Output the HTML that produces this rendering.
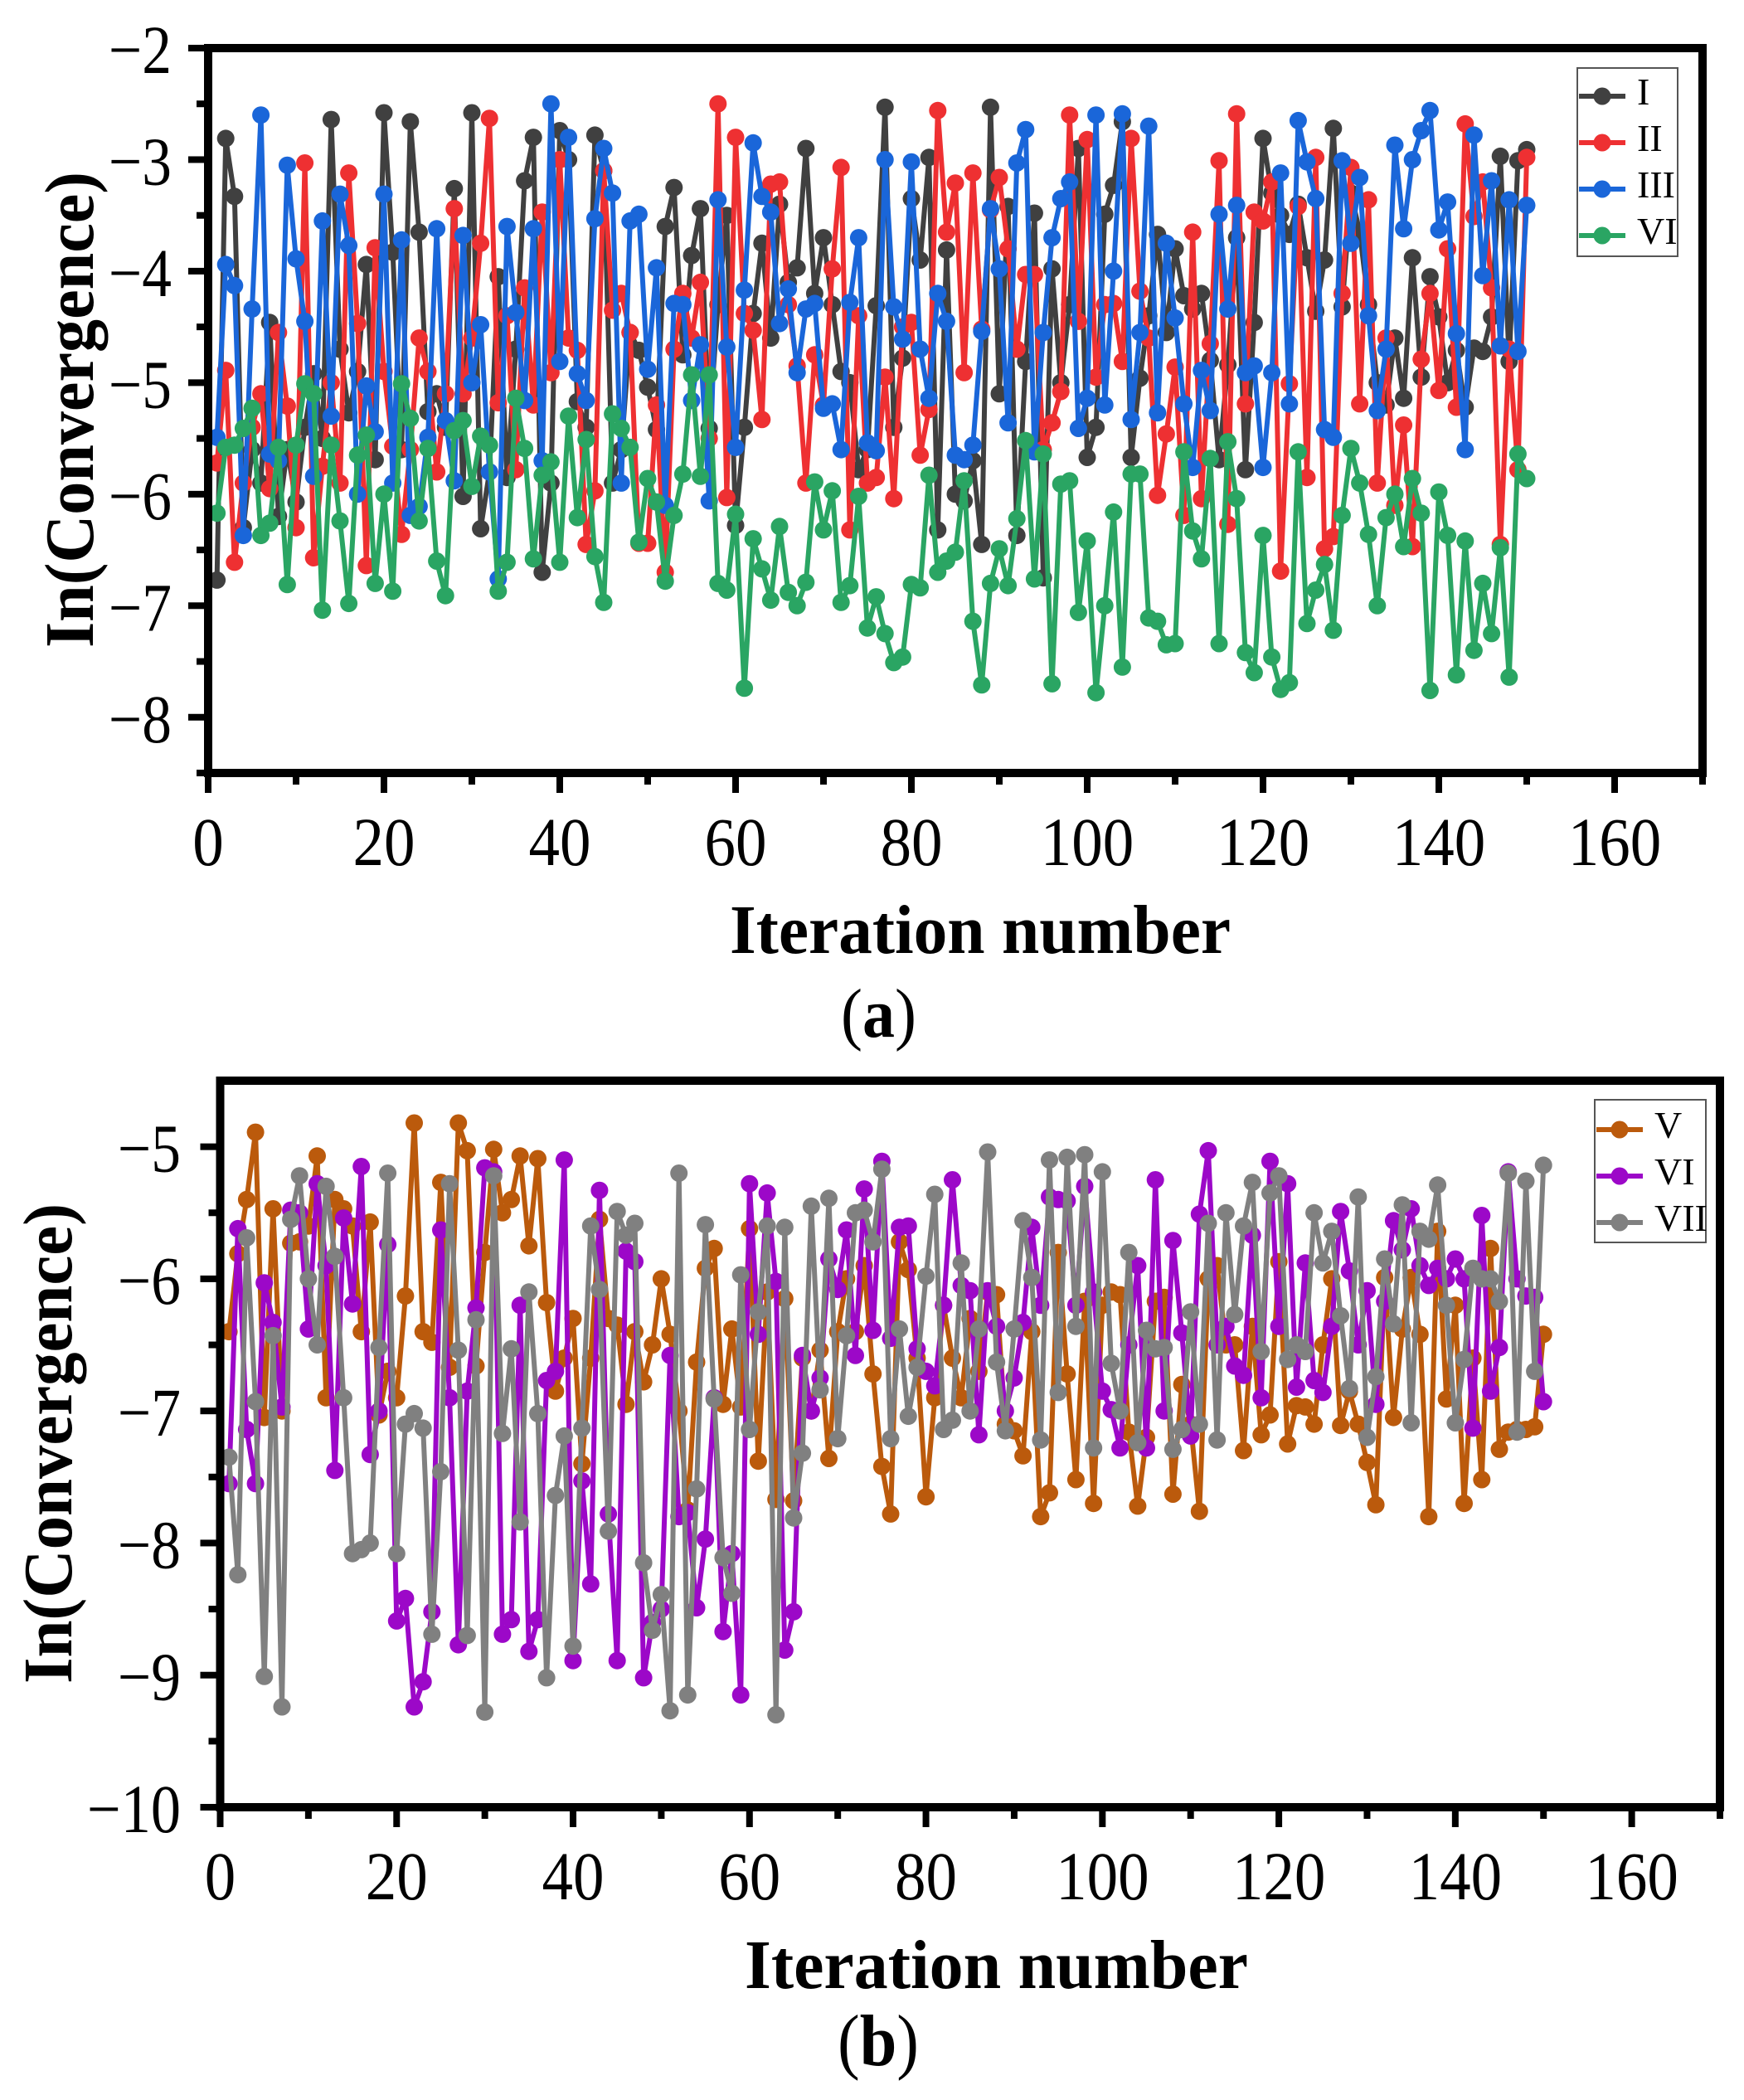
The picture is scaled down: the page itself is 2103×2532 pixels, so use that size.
<!DOCTYPE html>
<html lang="en">
<head>
<meta charset="utf-8">
<title>Convergence versus iteration number</title>
<style>
html,body{margin:0;padding:0;background:#fff;}
svg{display:block;font-family:"Liberation Serif",serif;}
</style>
</head>
<body>
<svg id="figure" width="2103" height="2532" viewBox="0 0 2103 2532" xmlns="http://www.w3.org/2000/svg">
  <rect x="0" y="0" width="2103" height="2532" fill="#ffffff"/>
  <g id="panelA"></g>
  <g id="panelB"></g>

  <text x="880" y="1149" font-size="84" font-weight="bold" textLength="604" lengthAdjust="spacingAndGlyphs" fill="#000">Iteration number</text>
  <text transform="translate(112,781) rotate(-90)" font-size="84" font-weight="bold" textLength="574" lengthAdjust="spacingAndGlyphs" fill="#000">In(Convergence)</text>
  <text x="1014" y="1250" font-size="84" textLength="91" lengthAdjust="spacingAndGlyphs" fill="#000">(<tspan font-weight="bold">a</tspan>)</text>

  <text x="898" y="2397" font-size="84" font-weight="bold" textLength="607" lengthAdjust="spacingAndGlyphs" fill="#000">Iteration number</text>
  <text transform="translate(86,2030) rotate(-90)" font-size="84" font-weight="bold" textLength="579" lengthAdjust="spacingAndGlyphs" fill="#000">In(Convergence)</text>
  <text x="1010" y="2490" font-size="88" textLength="98" lengthAdjust="spacingAndGlyphs" fill="#000">(<tspan font-weight="bold">b</tspan>)</text>
</svg>

<script>
const seriesI = [-6.77,-2.81,-3.33,-6.3,-5.6,-5.9,-4.46,-6.2,-5.6,-6.07,-5.4,-4.92,-5.5,-2.64,-4.7,-5.27,-4.9,-3.94,-5.69,-2.58,-3.83,-5.6,-2.66,-3.65,-5.26,-5.1,-5.4,-3.26,-6.02,-2.58,-6.31,-5.8,-4.05,-5.85,-4.7,-3.19,-2.8,-6.7,-5.9,-2.74,-3.0,-5.17,-5.4,-2.78,-3.1,-5.9,-5.6,-4.55,-4.71,-5.04,-5.42,-3.6,-3.25,-4.75,-3.86,-3.44,-5.41,-4.3,-3.5,-6.28,-5.4,-4.38,-3.75,-4.6,-3.4,-4.1,-3.97,-2.9,-4.2,-3.7,-4.3,-4.9,-5.0,-5.78,-5.6,-4.31,-2.53,-5.4,-4.78,-3.35,-3.9,-2.98,-6.32,-3.81,-6.0,-6.06,-5.7,-6.45,-2.53,-5.1,-3.42,-6.37,-4.81,-3.48,-6.75,-3.98,-5.0,-4.3,-2.9,-5.67,-5.4,-3.49,-3.23,-2.66,-5.67,-4.96,-4.4,-3.67,-4.55,-3.8,-4.22,-4.34,-4.2,-4.8,-5.69,-4.84,-3.7,-5.78,-4.46,-2.81,-3.3,-3.5,-3.67,-3.4,-3.88,-4.36,-3.9,-2.72,-4.32,-3.3,-3.65,-4.3,-5.0,-5.2,-4.6,-5.14,-3.88,-4.95,-4.05,-4.41,-5.0,-4.71,-5.22,-4.69,-4.72,-4.41,-2.97,-4.81,-3.01,-2.91];
const seriesII = [-5.72,-4.89,-6.61,-5.9,-5.4,-5.1,-5.95,-4.55,-5.21,-6.3,-3.03,-6.57,-5.75,-5.0,-5.9,-3.12,-4.47,-6.64,-3.79,-4.9,-5.57,-6.36,-5.6,-4.6,-4.9,-5.8,-5.1,-3.44,-5.1,-4.6,-3.75,-2.63,-5.18,-4.4,-5.78,-4.15,-5.2,-3.47,-4.91,-3.0,-4.6,-4.71,-6.45,-5.97,-3.1,-4.35,-4.2,-4.55,-6.44,-6.44,-5.2,-6.7,-4.7,-4.2,-4.6,-4.1,-5.5,-2.5,-6.03,-2.8,-4.38,-4.53,-5.33,-3.22,-3.2,-4.3,-4.85,-5.9,-4.75,-5.2,-3.98,-3.07,-6.32,-4.4,-5.9,-5.85,-4.95,-6.04,-4.5,-4.46,-5.65,-5.24,-2.56,-3.65,-3.21,-4.91,-3.12,-4.52,-3.45,-3.16,-3.8,-4.7,-4.03,-4.03,-5.6,-5.36,-5.08,-2.6,-4.45,-2.82,-4.95,-4.3,-4.29,-4.81,-2.81,-4.18,-4.6,-6.01,-5.46,-4.86,-6.19,-3.65,-6.04,-4.65,-3.01,-6.27,-2.59,-5.19,-3.47,-3.55,-3.2,-6.69,-5.01,-3.42,-5.85,-2.98,-6.49,-6.38,-4.2,-3.07,-5.19,-3.36,-5.9,-4.6,-6.1,-5.38,-6.47,-4.79,-4.2,-5.07,-3.8,-5.22,-2.68,-3.51,-3.2,-4.15,-6.45,-4.7,-5.78,-2.98];
const seriesIII = [-5.49,-3.94,-4.13,-6.37,-4.34,-2.6,-5.64,-5.7,-3.05,-3.89,-4.45,-5.84,-3.55,-5.3,-3.31,-3.77,-6.0,-5.03,-5.44,-3.31,-5.9,-3.72,-6.19,-6.11,-5.49,-3.62,-5.34,-5.88,-3.68,-5.0,-4.48,-5.8,-6.76,-3.6,-4.37,-5.16,-3.62,-5.7,-2.5,-4.81,-2.8,-4.92,-5.16,-3.53,-2.9,-3.3,-5.9,-3.55,-3.49,-4.88,-3.97,-6.1,-4.29,-4.3,-5.16,-4.66,-6.06,-3.36,-4.68,-5.58,-4.17,-2.85,-3.33,-3.47,-4.47,-4.16,-4.91,-4.34,-4.29,-5.23,-5.19,-5.6,-4.28,-3.7,-5.54,-5.61,-3.0,-4.32,-4.61,-3.02,-4.7,-5.14,-4.2,-4.45,-5.65,-5.69,-5.56,-4.54,-3.44,-3.98,-5.36,-3.03,-2.73,-5.62,-4.55,-3.7,-3.35,-3.2,-5.41,-5.14,-2.6,-5.2,-4.0,-2.59,-5.33,-4.55,-2.7,-5.27,-3.75,-4.42,-5.19,-5.76,-4.89,-5.25,-3.49,-4.34,-3.41,-4.91,-4.85,-5.76,-4.91,-3.12,-5.19,-2.65,-3.02,-3.35,-5.42,-5.49,-3.01,-3.75,-3.16,-4.4,-5.25,-4.7,-2.87,-3.62,-3.0,-2.74,-2.56,-3.63,-3.38,-4.56,-5.6,-2.78,-4.04,-3.19,-4.67,-3.36,-4.72,-3.41];
const seriesIV = [-6.17,-5.58,-5.56,-5.41,-5.23,-6.37,-6.26,-5.58,-6.81,-5.56,-5.01,-5.1,-7.04,-5.56,-6.24,-6.98,-5.65,-5.47,-6.8,-6.0,-6.87,-5.01,-5.32,-6.24,-5.59,-6.6,-6.91,-5.43,-5.34,-5.93,-5.48,-5.56,-6.87,-6.61,-5.14,-5.59,-6.58,-5.83,-5.71,-6.61,-5.3,-6.21,-5.51,-6.56,-6.97,-5.28,-5.41,-5.58,-6.43,-5.86,-6.07,-6.78,-6.19,-5.82,-4.93,-5.84,-4.93,-6.8,-6.86,-6.18,-7.74,-6.4,-6.67,-6.95,-6.29,-6.88,-7.0,-6.79,-5.89,-6.32,-5.97,-6.97,-6.82,-6.02,-7.2,-6.92,-7.25,-7.51,-7.46,-6.81,-6.84,-5.83,-6.7,-6.6,-6.52,-5.88,-7.14,-7.71,-6.8,-6.49,-6.82,-6.22,-5.52,-6.76,-5.64,-7.7,-5.91,-5.88,-7.06,-6.42,-7.78,-7.0,-6.16,-7.55,-5.82,-5.82,-7.11,-7.14,-7.35,-7.34,-5.62,-6.33,-6.58,-5.68,-7.34,-5.53,-6.04,-7.42,-7.6,-6.37,-7.46,-7.75,-7.69,-5.62,-7.16,-6.86,-6.63,-7.22,-6.19,-5.59,-5.9,-6.36,-7.0,-6.21,-6.0,-6.47,-5.86,-6.17,-7.76,-5.98,-6.37,-7.62,-6.42,-7.4,-6.8,-7.25,-6.48,-7.64,-5.64,-5.86];
const seriesV = [-6.4,-5.81,-5.4,-4.89,-7.05,-5.47,-7.0,-5.73,-5.72,-5.6,-5.07,-6.9,-5.4,-5.47,-5.6,-6.4,-5.57,-7.03,-6.7,-6.9,-6.13,-4.82,-6.4,-6.48,-5.27,-6.67,-4.82,-5.03,-6.66,-5.8,-5.02,-5.5,-5.4,-5.07,-5.75,-5.09,-6.18,-6.85,-6.6,-6.3,-7.4,-6.6,-5.55,-6.3,-6.35,-6.95,-6.4,-6.78,-6.5,-6.0,-6.42,-7.0,-7.75,-6.63,-5.92,-5.77,-6.95,-6.38,-6.97,-5.62,-7.38,-6.1,-7.67,-6.15,-7.68,-6.6,-7.0,-6.54,-7.36,-6.4,-6.0,-6.4,-5.9,-6.72,-7.42,-7.78,-5.72,-5.93,-6.6,-7.65,-6.9,-6.2,-6.6,-6.9,-6.3,-6.7,-6.1,-6.12,-7.1,-7.15,-7.34,-6.4,-7.8,-7.62,-5.8,-6.72,-7.52,-6.17,-7.7,-6.2,-6.1,-6.12,-7.16,-7.72,-7.2,-6.17,-6.14,-7.63,-6.8,-7.1,-7.76,-6.0,-5.9,-6.5,-6.5,-7.3,-6.36,-7.18,-7.03,-5.87,-7.25,-6.96,-6.97,-7.1,-6.5,-6.0,-7.11,-6.85,-7.1,-7.39,-7.71,-5.99,-7.05,-6.38,-5.99,-6.42,-7.8,-5.64,-6.91,-6.2,-7.7,-6.6,-7.52,-5.77,-7.29,-7.16,-7.14,-7.14,-7.12,-6.42];
const seriesVI = [-7.55,-5.62,-7.14,-7.55,-6.03,-6.33,-6.97,-5.48,-5.5,-6.38,-5.28,-5.9,-7.45,-5.54,-6.19,-5.15,-7.33,-7.0,-5.74,-8.59,-8.42,-9.24,-9.05,-8.52,-5.63,-6.9,-8.77,-6.85,-6.22,-5.16,-5.19,-8.69,-8.58,-6.2,-8.82,-8.58,-6.77,-6.7,-5.1,-8.89,-7.53,-8.31,-5.33,-7.78,-8.89,-5.79,-5.87,-9.02,-8.6,-8.5,-6.58,-7.8,-7.77,-8.49,-7.97,-6.9,-8.67,-8.08,-9.15,-5.28,-6.42,-5.35,-6.02,-8.81,-8.52,-6.58,-7.0,-6.75,-5.85,-6.08,-5.63,-6.58,-5.32,-6.39,-5.11,-6.45,-5.61,-5.6,-6.53,-6.7,-6.81,-6.2,-5.25,-6.05,-6.09,-7.18,-6.09,-6.36,-7.0,-6.75,-6.33,-5.61,-6.2,-5.38,-5.4,-5.41,-6.2,-5.3,-6.1,-6.85,-6.99,-7.28,-6.5,-5.9,-7.28,-5.25,-7.0,-5.71,-6.41,-7.19,-5.51,-5.03,-6.5,-6.36,-6.66,-6.73,-5.67,-6.9,-5.11,-6.36,-5.28,-6.82,-5.88,-6.77,-6.86,-6.36,-5.49,-5.94,-6.5,-6.09,-6.95,-6.17,-5.56,-5.78,-5.47,-5.9,-6.05,-5.92,-6.0,-5.85,-6.0,-7.13,-5.52,-6.85,-6.52,-5.19,-6.0,-6.13,-6.14,-6.93];
const seriesVII = [-7.35,-8.24,-5.69,-6.93,-9.01,-6.43,-9.24,-5.55,-5.22,-6.0,-6.5,-5.3,-5.83,-6.9,-8.08,-8.05,-8.0,-6.52,-5.2,-8.08,-7.1,-7.02,-7.13,-8.69,-7.46,-5.28,-6.54,-8.7,-6.31,-9.28,-5.22,-7.17,-6.53,-7.84,-6.1,-7.02,-9.02,-7.64,-7.19,-8.78,-7.13,-5.6,-6.08,-7.91,-5.49,-5.67,-5.58,-8.15,-8.66,-8.39,-9.27,-5.2,-9.15,-7.59,-5.59,-6.91,-8.11,-8.38,-5.97,-7.14,-6.25,-5.6,-9.3,-5.61,-7.81,-7.32,-5.45,-6.84,-5.39,-7.21,-6.43,-5.5,-5.48,-5.72,-5.17,-7.21,-6.38,-7.04,-6.67,-5.98,-5.36,-7.14,-7.07,-5.88,-7.0,-6.38,-5.04,-6.63,-7.15,-6.38,-5.56,-5.99,-7.22,-5.1,-6.86,-5.08,-6.36,-5.06,-7.28,-5.19,-6.64,-7.0,-5.8,-7.24,-6.39,-6.53,-6.52,-7.29,-7.14,-6.25,-7.1,-5.58,-7.22,-5.5,-6.27,-5.6,-5.27,-6.55,-5.35,-5.22,-6.61,-6.5,-6.55,-5.5,-5.88,-5.64,-6.28,-6.83,-5.38,-7.2,-6.74,-5.85,-6.34,-5.44,-7.09,-5.64,-5.7,-5.29,-6.2,-7.09,-6.61,-5.92,-6.0,-6.0,-6.17,-5.2,-7.16,-5.26,-6.7,-5.14];

const xTickValues = [0,20,40,60,80,100,120,140,160];
const xMinorValues = [10,30,50,70,90,110,130,150,170];
const yTicksA = [-2,-3,-4,-5,-6,-7,-8];
const yMinorA = [-2.5,-3.5,-4.5,-5.5,-6.5,-7.5,-8.5];
const yTicksB = [-5,-6,-7,-8,-9,-10];
const yMinorB = [-5.5,-6.5,-7.5,-8.5,-9.5];
const legendLabelsA = ['I','II','III','VI'];
const legendLabelsB = ['V','VI','VII'];

const NS = 'http://www.w3.org/2000/svg';
function mk(tag, attrs, parent) {
  const el = document.createElementNS(NS, tag);
  for (const k in attrs) el.setAttribute(k, attrs[k]);
  parent.appendChild(el);
  return el;
}
function minusLabel(v) { return v < 0 ? '\u2212' + Math.abs(v) : String(v); }

function drawPanel(opts) {
  const g = opts.group;
  const sx = v => opts.left + (v - 0) * (opts.right - opts.left) / 170;
  const sy = v => opts.top + (opts.yMax - v) * (opts.bottom - opts.top) / (opts.yMax - opts.yMin);

  opts.series.forEach(s => {
    const sg = mk('g', {}, g);
    
    
    const pts = s.values.map((v, i) => sx(i + 1).toFixed(1) + ',' + sy(v).toFixed(1)).join(' ');
    const line = mk('polyline', {points: pts, fill: 'none', stroke: s.color, 'stroke-width': 6, 'stroke-linejoin': 'round'}, sg);
    
    
    s.values.forEach((v, i) => {
      const c = mk('circle', {cx: sx(i + 1).toFixed(1), cy: sy(v).toFixed(1), r: 10.5, fill: s.color}, sg);
      
      
    });
  });

  const frame = mk('rect', {x: opts.left, y: opts.top, width: opts.right - opts.left, height: opts.bottom - opts.top, fill: 'none', stroke: '#000', 'stroke-width': 10}, g);
  
  

  xTickValues.forEach(v => {
    const t = mk('rect', {x: sx(v) - 4, y: opts.bottom, width: 8, height: 24}, g);
    
    
    const s = String(v);
    const w = s.length * 37.5;
    const lab = mk('text', {x: sx(v) - w / 2, y: opts.xLabelY, 'font-size': 83, textLength: w, lengthAdjust: 'spacingAndGlyphs', fill: '#000'}, g);
    lab.textContent = s;
    
    
  });
  xMinorValues.forEach(v => {
    const t = mk('rect', {x: sx(v) - 4, y: opts.bottom, width: 8, height: 14}, g);
    
    
  });
  opts.yTicks.forEach(v => {
    const t = mk('rect', {x: opts.left - 24, y: sy(v) - 4, width: 24, height: 8}, g);
    
    
    const s = minusLabel(v);
    const w = s.length === 3 ? 113 : 76;
    const lab = mk('text', {x: opts.yLabelRight - w, y: sy(v) + 30, 'font-size': 83, textLength: w, lengthAdjust: 'spacingAndGlyphs', fill: '#000'}, g);
    lab.textContent = s;
    
    
  });
  opts.yMinor.forEach(v => {
    const t = mk('rect', {x: opts.left - 14, y: sy(v) - 4, width: 14, height: 8}, g);
    
    
  });

  const L = opts.legend;
  const lg = mk('g', {}, g);
  
  
  const box = mk('rect', {x: L.x, y: L.y, width: L.w, height: L.h, fill: '#fff', stroke: '#555', 'stroke-width': 2}, lg);
  
  
  L.labels.forEach((name, i) => {
    const cy = L.firstY + i * L.step;
    const color = opts.series[i].color;
    const ln = mk('line', {x1: L.lineX, x2: L.lineX + 56, y1: cy, y2: cy, stroke: color, 'stroke-width': 6}, lg);
    
    
    const mc = mk('circle', {cx: L.lineX + 28, cy: cy, r: 10.5, fill: color}, lg);
    
    
    const tx = mk('text', {x: L.textX, y: cy + 10, 'font-size': 46, fill: '#000'}, lg);
    tx.textContent = name;
    
    
  });
}

drawPanel({
  group: document.getElementById('panelA'),
  left: 251, right: 2053, top: 58, bottom: 932, yMax: -2, yMin: -8.5,
  xLabelY: 1043, yLabelRight: 207,
  yTicks: yTicksA, yMinor: yMinorA,
  series: [
    {name: 'I', color: '#404040', values: seriesI},
    {name: 'II', color: '#ee3032', values: seriesII},
    {name: 'III', color: '#1a66d9', values: seriesIII},
    {name: 'VI-green', color: '#2aa563', values: seriesIV}
  ],
  legend: {x: 1902, y: 82, w: 121, h: 227, firstY: 116, step: 56, lineX: 1904, textX: 1974, labels: legendLabelsA}
});

drawPanel({
  group: document.getElementById('panelB'),
  left: 265.5, right: 2074, top: 1303, bottom: 2179, yMax: -4.5, yMin: -10,
  xLabelY: 2290, yLabelRight: 218,
  yTicks: yTicksB, yMinor: yMinorB,
  series: [
    {name: 'V', color: '#bb5a0c', values: seriesV},
    {name: 'VI-purple', color: '#9c08c8', values: seriesVI},
    {name: 'VII', color: '#808080', values: seriesVII}
  ],
  legend: {x: 1923, y: 1326, w: 134, h: 172, firstY: 1362, step: 56, lineX: 1925, textX: 1995, labels: legendLabelsB}
});
</script>
</body>
</html>
